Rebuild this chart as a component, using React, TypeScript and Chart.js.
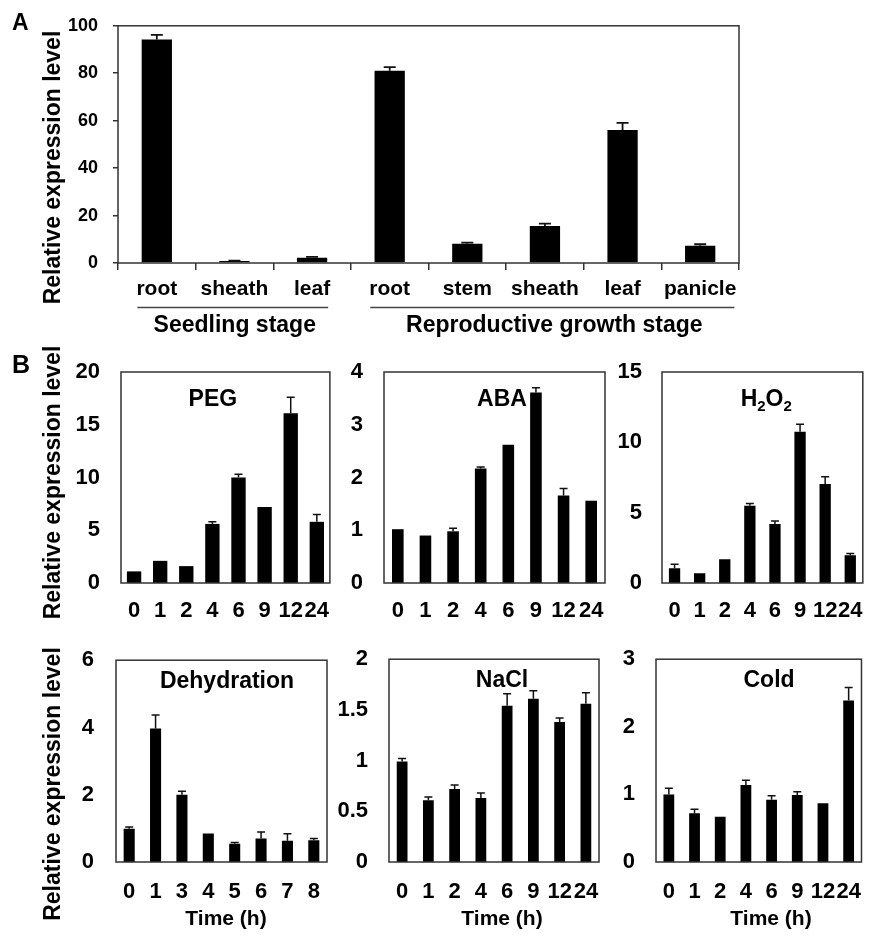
import React, { useEffect, useRef } from 'react';
import { Chart, registerables } from 'chart.js';

Chart.register(...registerables);

const FONT = "'Liberation Sans', Arial, Helvetica, sans-serif";
Chart.defaults.font.family = FONT;
Chart.defaults.color = '#000';

// ---------- data ----------
const tissueLabels = ['root', 'sheath', 'leaf', 'root', 'stem', 'sheath', 'leaf', 'panicle'];
const tissueValues = [94.2, 0.8, 2.2, 81.1, 8.1, 15.6, 56.1, 7.3];
const tissueErrors = [2.0, 0.2, 0.4, 1.5, 0.5, 1.0, 3.0, 0.6];
const tissueGroups = [
  { label: 'Seedling stage', from: 0, to: 2 },
  { label: 'Reproductive growth stage', from: 3, to: 7 },
];

const timeLabels = ['0', '1', '2', '4', '6', '9', '12', '24'];
const dehydrationLabels = ['0', '1', '3', '4', '5', '6', '7', '8'];

const pegValues = [1.1, 2.1, 1.6, 5.6, 10.0, 7.2, 16.1, 5.8];
const pegErrors = [0, 0, 0, 0.2, 0.3, 0, 1.5, 0.7];

const abaValues = [1.02, 0.9, 0.98, 2.17, 2.62, 3.61, 1.66, 1.56];
const abaErrors = [0, 0, 0.06, 0.03, 0, 0.09, 0.13, 0];

const h2o2Values = [1.04, 0.69, 1.68, 5.5, 4.19, 10.75, 7.04, 1.97];
const h2o2Errors = [0.3, 0, 0, 0.16, 0.21, 0.53, 0.52, 0.13];

const dehydrationValues = [0.99, 3.97, 2.0, 0.85, 0.54, 0.7, 0.63, 0.65];
const dehydrationErrors = [0.05, 0.4, 0.1, 0, 0.04, 0.19, 0.21, 0.05];

const naclValues = [0.99, 0.61, 0.72, 0.63, 1.54, 1.61, 1.38, 1.56];
const naclErrors = [0.03, 0.03, 0.04, 0.05, 0.12, 0.08, 0.04, 0.11];

const coldValues = [1.0, 0.72, 0.67, 1.14, 0.92, 0.99, 0.87, 2.39];
const coldErrors = [0.09, 0.06, 0, 0.07, 0.06, 0.05, 0, 0.19];

const Y_TITLE = 'Relative expression level';
const X_TITLE = 'Time (h)';

// ---------- styles ----------
const AXIS = '#333';

type Seg = { t: string; sub?: boolean };
type TextItem = {
  text: string;
  x: number;
  y: number;
  size: number;
  rot?: number;
  align?: CanvasTextAlign;
  baseline?: CanvasTextBaseline;
};

interface PanelCfg {
  id: string;
  box: [number, number, number, number];
  plot: [number, number, number, number];
  labels: string[];
  values: number[];
  errors: number[];
  yMax: number;
  yStep: number;
  barPct: number;
  xFont: number;
  yFont: number;
  xPad: number;
  yPad: number;
  tickMarks: boolean;
  cap: number;
  errWidth: number;
  title?: Seg[];
  titleFx?: number;
  titleDy?: number;
  titleSize?: number;
  texts: TextItem[];
  groups?: typeof tissueGroups;
}

function makeDecor(cfg: PanelCfg) {
  const [bx, by] = cfg.box;
  return {
    id: 'decor_' + cfg.id,
    afterDatasetsDraw(chart: any) {
      const { ctx, chartArea } = chart;
      const ys = chart.scales.y;
      const meta = chart.getDatasetMeta(0);
      const vals = chart.data.datasets[0].data as number[];
      ctx.save();
      // error bars (upper only)
      ctx.strokeStyle = '#111';
      ctx.lineWidth = cfg.errWidth;
      meta.data.forEach((bar: any, i: number) => {
        const e = cfg.errors[i];
        if (!e) return;
        const yb = ys.getPixelForValue(vals[i]);
        const yt = ys.getPixelForValue(vals[i] + e);
        ctx.beginPath();
        ctx.moveTo(bar.x, yb);
        ctx.lineTo(bar.x, yt);
        ctx.moveTo(bar.x - cfg.cap / 2, yt);
        ctx.lineTo(bar.x + cfg.cap / 2, yt);
        ctx.stroke();
      });
      // frame
      ctx.strokeStyle = AXIS;
      ctx.lineWidth = 1.5;
      ctx.strokeRect(chartArea.left, chartArea.top, chartArea.right - chartArea.left, chartArea.bottom - chartArea.top);
      ctx.restore();
    },
    afterDraw(chart: any) {
      const { ctx, chartArea } = chart;
      ctx.save();
      ctx.fillStyle = '#000';
      cfg.texts.forEach((t) => {
        ctx.save();
        ctx.font = `bold ${t.size}px ${FONT}`;
        ctx.textAlign = t.align || 'center';
        ctx.textBaseline = t.baseline || 'middle';
        ctx.translate(t.x - bx, t.y - by);
        if (t.rot) ctx.rotate(t.rot);
        ctx.fillText(t.text, 0, 0);
        ctx.restore();
      });
      if (cfg.title) {
        const size = cfg.titleSize || 22;
        const subSize = Math.round(size * 0.66);
        const cx = chartArea.left + (cfg.titleFx || 0.5) * (chartArea.right - chartArea.left);
        const cy = chartArea.top + (cfg.titleDy || 20);
        const baseY = cy + 0.358 * size;
        let total = 0;
        const widths = cfg.title.map((s) => {
          ctx.font = `bold ${s.sub ? subSize : size}px ${FONT}`;
          const w = ctx.measureText(s.t).width;
          total += w;
          return w;
        });
        let x = cx - total / 2;
        ctx.textAlign = 'left';
        ctx.textBaseline = 'alphabetic';
        cfg.title.forEach((s, i) => {
          ctx.font = `bold ${s.sub ? subSize : size}px ${FONT}`;
          ctx.fillText(s.t, x, s.sub ? baseY + 5 : baseY);
          x += widths[i];
        });
      }
      if (cfg.groups) {
        const xs = chart.scales.x;
        const lineY = chartArea.bottom + 44.5;
        const labY = chartArea.bottom + 63;
        ctx.font = `bold ${cfg.xFont}px ${FONT}`;
        cfg.groups.forEach((g) => {
          const x0 = xs.getPixelForValue(g.from) - ctx.measureText(cfg.labels[g.from]).width / 2 + 1;
          const x1 = xs.getPixelForValue(g.to) + ctx.measureText(cfg.labels[g.to]).width / 2 - 2;
          ctx.strokeStyle = '#444';
          ctx.lineWidth = 1.6;
          ctx.beginPath();
          ctx.moveTo(x0, lineY);
          ctx.lineTo(x1, lineY);
          ctx.stroke();
          ctx.save();
          ctx.font = `bold 23px ${FONT}`;
          ctx.textAlign = 'center';
          ctx.textBaseline = 'middle';
          ctx.fillText(g.label, (x0 + x1) / 2 + 2, labY);
          ctx.restore();
        });
      }
      ctx.restore();
    },
  };
}

const fmtTick = (v: any) => String(Number(v));

function buildConfig(cfg: PanelCfg): any {
  const [bx, by, bw, bh] = cfg.box;
  const [pl, pt, pr, pb] = cfg.plot;
  const tickLen = cfg.tickMarks ? 7 : 0;
  const xAxisNatural = tickLen + cfg.xFont * 1.2 + 2 * cfg.xPad;
  const padBottom = Math.max(0, by + bh - pb - xAxisNatural);
  const gridOn = (len: number) => ({
    display: true,
    drawOnChartArea: false,
    drawTicks: true,
    tickLength: len,
    color: AXIS,
    lineWidth: 1.5,
  });
  const gridOff = { display: false, drawTicks: false, tickLength: 0 };
  return {
    type: 'bar',
    data: {
      labels: cfg.labels,
      datasets: [
        {
          data: cfg.values,
          backgroundColor: '#000',
          borderWidth: 0,
          barPercentage: cfg.barPct,
          categoryPercentage: 1,
        },
      ],
    },
    options: {
      responsive: false,
      maintainAspectRatio: false,
      animation: false,
      devicePixelRatio: 1,
      events: [],
      layout: { padding: { left: 0, top: pt - by, right: bx + bw - pr, bottom: padBottom } },
      plugins: { legend: { display: false }, tooltip: { enabled: false }, title: { display: false } },
      scales: {
        x: {
          grid: cfg.tickMarks ? { ...gridOn(tickLen), offset: true } : gridOff,
          border: { display: false },
          ticks: {
            autoSkip: false,
            maxRotation: 0,
            minRotation: 0,
            padding: cfg.xPad,
            color: '#000',
            font: { family: FONT, size: cfg.xFont, weight: 'bold' },
          },
        },
        y: {
          min: 0,
          max: cfg.yMax,
          afterFit: (s: any) => {
            s.width = pl - bx;
          },
          grid: cfg.tickMarks ? gridOn(5) : gridOff,
          border: { display: false },
          ticks: {
            stepSize: cfg.yStep,
            padding: cfg.yPad,
            color: '#000',
            callback: fmtTick,
            font: { family: FONT, size: cfg.yFont, weight: 'bold' },
          },
        },
      },
    },
    plugins: [makeDecor(cfg)],
  };
}

const ROT = -Math.PI / 2;

const panels: PanelCfg[] = [
  {
    id: 'A',
    box: [0, 0, 760, 345],
    plot: [118, 20, 739, 263],
    labels: tissueLabels,
    values: tissueValues,
    errors: tissueErrors,
    yMax: 100,
    yStep: 20,
    barPct: 0.39,
    xFont: 21,
    yFont: 18,
    xPad: 7,
    yPad: 15,
    tickMarks: true,
    cap: 12,
    errWidth: 1.8,
    groups: tissueGroups,
    texts: [
      { text: 'A', x: 12, y: 30, size: 23, align: 'left', baseline: 'alphabetic' },
      { text: Y_TITLE, x: 54, y: 167.5, size: 23, rot: ROT },
    ],
  },
  {
    id: 'PEG',
    box: [0, 335, 345, 310],
    plot: [121, 372, 330, 583],
    labels: timeLabels,
    values: pegValues,
    errors: pegErrors,
    yMax: 20,
    yStep: 5,
    barPct: 0.55,
    xFont: 22,
    yFont: 22,
    xPad: 15,
    yPad: 21,
    tickMarks: false,
    cap: 8,
    errWidth: 1.5,
    title: [{ t: 'PEG' }],
    titleFx: 0.44,
    titleDy: 25.5,
    titleSize: 23,
    texts: [
      { text: 'B', x: 12, y: 373, size: 25, align: 'left', baseline: 'alphabetic' },
      { text: Y_TITLE, x: 54, y: 482.5, size: 23, rot: ROT },
    ],
  },
  {
    id: 'ABA',
    box: [330, 335, 290, 310],
    plot: [384, 372, 605, 583],
    labels: timeLabels,
    values: abaValues,
    errors: abaErrors,
    yMax: 4,
    yStep: 1,
    barPct: 0.42,
    xFont: 22,
    yFont: 22,
    xPad: 15,
    yPad: 21,
    tickMarks: false,
    cap: 8,
    errWidth: 1.5,
    title: [{ t: 'ABA' }],
    titleFx: 0.534,
    titleDy: 25.5,
    titleSize: 23,
    texts: [],
  },
  {
    id: 'H2O2',
    box: [605, 335, 273, 310],
    plot: [662, 372, 870, 583],
    labels: timeLabels,
    values: h2o2Values,
    errors: h2o2Errors,
    yMax: 15,
    yStep: 5,
    barPct: 0.45,
    xFont: 22,
    yFont: 22,
    xPad: 15,
    yPad: 20,
    tickMarks: false,
    cap: 8,
    errWidth: 1.5,
    title: [{ t: 'H' }, { t: '2', sub: true }, { t: 'O' }, { t: '2', sub: true }],
    titleFx: 0.519,
    titleDy: 25.5,
    titleSize: 23,
    texts: [],
  },
  {
    id: 'Dehydration',
    box: [0, 625, 345, 311],
    plot: [116, 653, 327, 862],
    labels: dehydrationLabels,
    values: dehydrationValues,
    errors: dehydrationErrors,
    yMax: 6,
    yStep: 2,
    barPct: 0.42,
    xFont: 22,
    yFont: 22,
    xPad: 17,
    yPad: 22,
    tickMarks: false,
    cap: 8,
    errWidth: 1.5,
    title: [{ t: 'Dehydration' }],
    titleFx: 0.526,
    titleDy: 20,
    titleSize: 23,
    texts: [
      { text: Y_TITLE, x: 54, y: 784, size: 23, rot: ROT },
      { text: X_TITLE, x: 226, y: 919, size: 21 },
    ],
  },
  {
    id: 'NaCl',
    box: [327, 625, 290, 311],
    plot: [389, 653, 599, 862],
    labels: timeLabels,
    values: naclValues,
    errors: naclErrors,
    yMax: 2,
    yStep: 0.5,
    barPct: 0.41,
    xFont: 22,
    yFont: 22,
    xPad: 17,
    yPad: 21,
    tickMarks: false,
    cap: 8,
    errWidth: 1.5,
    title: [{ t: 'NaCl' }],
    titleFx: 0.538,
    titleDy: 20,
    titleSize: 23,
    texts: [{ text: X_TITLE, x: 502, y: 919, size: 21 }],
  },
  {
    id: 'Cold',
    box: [599, 625, 279, 311],
    plot: [656, 653, 876, 862],
    labels: timeLabels,
    values: coldValues,
    errors: coldErrors,
    yMax: 3,
    yStep: 1,
    barPct: 0.42,
    xFont: 22,
    yFont: 22,
    xPad: 17,
    yPad: 21,
    tickMarks: false,
    cap: 8,
    errWidth: 1.5,
    title: [{ t: 'Cold' }],
    titleFx: 0.55,
    titleDy: 20,
    titleSize: 23,
    texts: [{ text: X_TITLE, x: 771, y: 919, size: 21 }],
  },
];

function Panel({ cfg }: { cfg: PanelCfg }) {
  const ref = useRef<HTMLCanvasElement>(null);
  useEffect(() => {
    if (!ref.current) return;
    const chart = new Chart(ref.current, buildConfig(cfg));
    return () => chart.destroy();
  }, [cfg]);
  const [x, y, w, h] = cfg.box;
  return (
    <canvas
      ref={ref}
      width={w}
      height={h}
      style={{ position: 'absolute', left: x, top: y, width: w, height: h }}
    />
  );
}

export default function App() {
  return (
    <div
      style={{
        position: 'absolute',
        left: 0,
        top: 0,
        width: 878,
        height: 936,
        background: '#fff',
        overflow: 'hidden',
      }}
    >
      {panels.map((p) => (
        <Panel key={p.id} cfg={p} />
      ))}
    </div>
  );
}
